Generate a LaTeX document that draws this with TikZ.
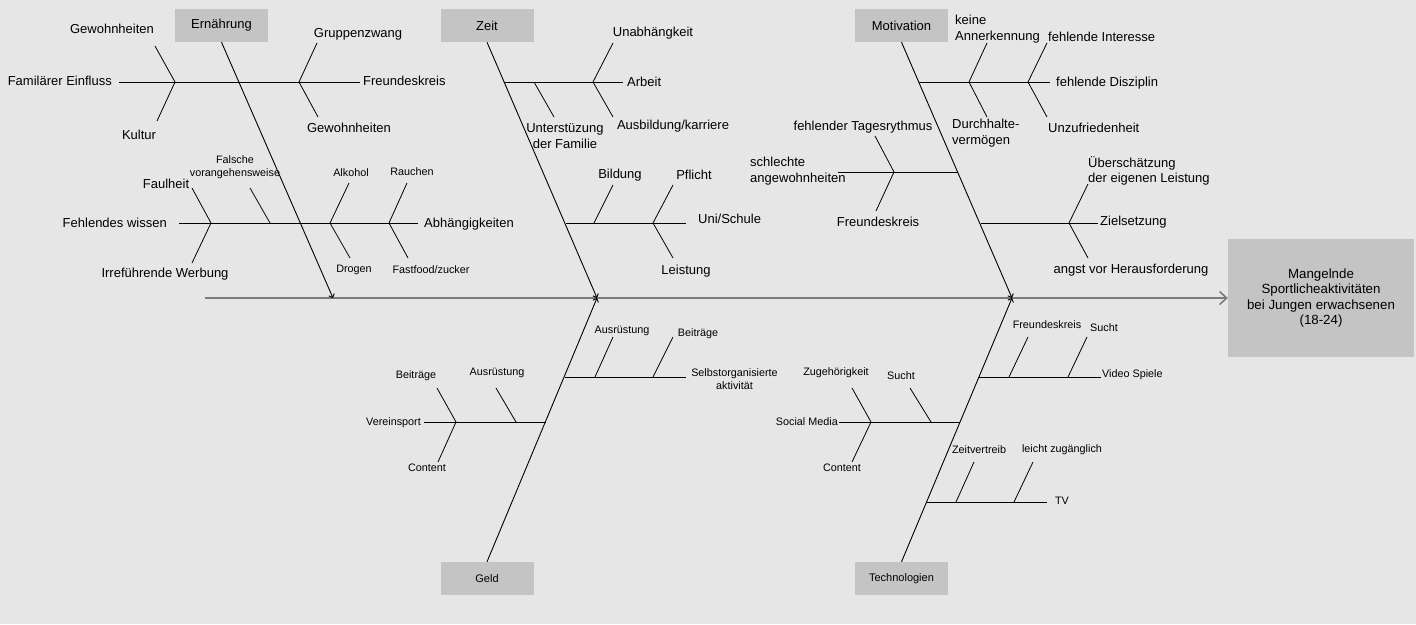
\documentclass[tikz,border=0pt]{standalone}
\usepackage{fontspec}
\setmainfont{Liberation Sans}
\usetikzlibrary{arrows.meta}
\definecolor{bgc}{HTML}{E6E6E6}
\definecolor{boxc}{HTML}{C4C4C4}
\definecolor{spinec}{HTML}{7A7A7A}
\begin{document}
\begin{tikzpicture}[x=1pt,y=-1pt,
  lab/.style={font=\fontsize{13}{15.5}\selectfont, inner sep=0pt, align=center},
  sml/.style={font=\fontsize{10.8}{13}\selectfont, inner sep=0pt, align=center},
  cat/.style={fill=boxc, minimum width=93pt, minimum height=33pt, inner sep=0pt, font=\fontsize{13}{15}\selectfont},
  catsml/.style={cat, font=\fontsize{11}{13}\selectfont},
  bone/.style={line width=0.9pt, -{Straight Barb[length=3pt,width=6pt]}},
  twig/.style={line width=0.8pt},
  spine/.style={line width=2pt, draw=spinec, -{Straight Barb[length=7pt,width=13pt,line width=1.6pt]}},
]
\fill[bgc] (0,0) rectangle (1416,624);
\useasboundingbox (0,0) rectangle (1416,624);

% boxes
\node[cat] (ern) at (221.5,25.5) {Ernährung};
\node[cat] (zeit) at (487,25.5) {Zeit};
\node[cat] (mot) at (901.5,25.5) {Motivation};
\node[catsml] (geld) at (487,578.5) {Geld};
\node[catsml] (tech) at (901.5,578.5) {Technologien};
\node[fill=boxc, minimum width=186pt, minimum height=118pt, inner sep=0pt, align=center,
      font=\fontsize{13.3}{15.5}\selectfont] (eff) at (1321,298)
      {Mangelnde\\Sportlicheaktivitäten\\bei Jungen erwachsenen\\(18-24)};

% spine
\coordinate (s0) at (205,298);
\draw[spine] (s0) -- (eff.west);

% main bones
\coordinate (ernT) at (333,298);
\coordinate (zeitT) at (597,298);
\coordinate (motT) at (1012,298);
\draw[bone] (ern.south) -- (ernT);
\draw[bone] (zeit.south) -- (zeitT);
\draw[bone] (mot.south) -- (motT);
\draw[bone] (geld.north) -- (zeitT);
\draw[bone] (tech.north) -- (motT);

% ===== Ernaehrung upper
\coordinate (e1a) at (119,82); \coordinate (e1b) at (360,82);
\draw[twig] (e1a) -- (e1b);
\coordinate (e1f) at (175,82); \coordinate (e1u) at (155,46); \coordinate (e1d) at (157,121);
\draw[twig] (e1u) -- (e1f) -- (e1d);
\coordinate (e1g) at (299,82); \coordinate (e1gu) at (317,43); \coordinate (e1gd) at (318,117);
\draw[twig] (e1gu) -- (e1g) -- (e1gd);
\node[lab] (t1) at (112,29) {Gewohnheiten};
\node[lab, anchor=east] (t2) at (112,81) {Familärer Einfluss};
\node[lab] (t3) at (139,135) {Kultur};
\node[lab] (t4) at (358,34) {Gruppenzwang};
\node[lab, anchor=west] (t5) at (363,81) {Freundeskreis};
\node[lab] (t6) at (349,128) {Gewohnheiten};

% ===== Ernaehrung lower
\coordinate (e2a) at (179,223); \coordinate (e2b) at (418,223);
\draw[twig] (e2a) -- (e2b);
\coordinate (e2f) at (211,223); \coordinate (e2u) at (192,188); \coordinate (e2d) at (192,263);
\draw[twig] (e2u) -- (e2f) -- (e2d);
\coordinate (e2g) at (270,223); \coordinate (e2gu) at (250,188);
\draw[twig] (e2gu) -- (e2g);
\coordinate (e2h) at (330,223); \coordinate (e2hu) at (349,183); \coordinate (e2hd) at (350,258);
\draw[twig] (e2hu) -- (e2h) -- (e2hd);
\coordinate (e2i) at (389,223); \coordinate (e2iu) at (407,183); \coordinate (e2id) at (408,258);
\draw[twig] (e2iu) -- (e2i) -- (e2id);
\node[lab, anchor=east] (t7) at (167,223) {Fehlendes wissen};
\node[lab, anchor=west] (t8) at (424,224) {Abhängigkeiten};
\node[lab] (t9) at (166,184) {Faulheit};
\node[lab] (t10) at (165,274) {Irreführende Werbung};
\node[sml] (t11) at (235,167) {Falsche\\vorangehensweise};
\node[sml] (t12) at (351,173) {Alkohol};
\node[sml] (t13) at (354,270) {Drogen};
\node[sml] (t14) at (412,172) {Rauchen};
\node[sml] (t15) at (431,270) {Fastfood/zucker};

% ===== Zeit upper
\coordinate (z1a) at (505,82); \coordinate (z1b) at (623,82);
\draw[twig] (z1a) -- (z1b);
\coordinate (z1f) at (593,82); \coordinate (z1u) at (613,43); \coordinate (z1d) at (613,117);
\draw[twig] (z1u) -- (z1f) -- (z1d);
\coordinate (z1g) at (534,82); \coordinate (z1gd) at (554,117);
\draw[twig] (z1g) -- (z1gd);
\node[lab, anchor=west] (t16) at (627,82) {Arbeit};
\node[lab] (t17) at (653,33) {Unabhängkeit};
\node[lab] (t18) at (673,126) {Ausbildung/karriere};
\node[lab] (t19) at (565,136) {Unterstüzung\\der Familie};

% ===== Zeit lower
\coordinate (z2a) at (566,223); \coordinate (z2b) at (686,223);
\draw[twig] (z2a) -- (z2b);
\coordinate (z2f) at (594,223); \coordinate (z2u) at (613,185);
\draw[twig] (z2u) -- (z2f);
\coordinate (z2g) at (653,223); \coordinate (z2gu) at (673,185); \coordinate (z2gd) at (673,258);
\draw[twig] (z2gu) -- (z2g) -- (z2gd);
\node[lab, anchor=west] (t20) at (698,219) {Uni/Schule};
\node[lab] (t21) at (620,175) {Bildung};
\node[lab] (t22) at (694,175) {Pflicht};
\node[lab] (t23) at (686,271) {Leistung};

% ===== Motivation upper
\coordinate (m1a) at (919,82); \coordinate (m1b) at (1050,82);
\draw[twig] (m1a) -- (m1b);
\coordinate (m1f) at (969,82); \coordinate (m1u) at (987,43); \coordinate (m1d) at (987,117);
\draw[twig] (m1u) -- (m1f) -- (m1d);
\coordinate (m1g) at (1028,82); \coordinate (m1gu) at (1047,43); \coordinate (m1gd) at (1047,117);
\draw[twig] (m1gu) -- (m1g) -- (m1gd);
\node[lab, anchor=west, align=left] (t24) at (955,29) {keine\\Annerkennung};
\node[lab, anchor=west, align=left] (t25) at (952,133) {Durchhalte-\\vermögen};
\node[lab, anchor=west] (t26) at (1048,37) {fehlende Interesse};
\node[lab, anchor=west] (t27) at (1056,83) {fehlende Disziplin};
\node[lab, anchor=west] (t28) at (1048,128) {Unzufriedenheit};

% ===== Motivation middle
\coordinate (m2a) at (838,172); \coordinate (m2b) at (958,172);
\draw[twig] (m2a) -- (m2b);
\coordinate (m2f) at (894,172); \coordinate (m2u) at (875,136); \coordinate (m2d) at (876,211);
\draw[twig] (m2u) -- (m2f) -- (m2d);
\node[lab] (t29) at (863,127) {fehlender Tagesrythmus};
\node[lab, anchor=west, align=left] (t30) at (750,171) {schlechte\\angewohnheiten};
\node[lab] (t31) at (878,222) {Freundeskreis};

% ===== Motivation right
\coordinate (m3a) at (981,223); \coordinate (m3b) at (1098,223);
\draw[twig] (m3a) -- (m3b);
\coordinate (m3f) at (1069,223); \coordinate (m3u) at (1088,184); \coordinate (m3d) at (1088,258);
\draw[twig] (m3u) -- (m3f) -- (m3d);
\node[lab, anchor=west, align=left] (t32) at (1088,171) {Überschätzung\\der eigenen Leistung};
\node[lab, anchor=west] (t33) at (1100,222) {Zielsetzung};
\node[lab] (t34) at (1131,270) {angst vor Herausforderung};

% ===== Geld right
\coordinate (g1a) at (565,377); \coordinate (g1b) at (686,377);
\draw[twig] (g1a) -- (g1b);
\coordinate (g1f) at (595,377); \coordinate (g1u) at (613,337);
\draw[twig] (g1f) -- (g1u);
\coordinate (g1g) at (653,377); \coordinate (g1gu) at (673,337);
\draw[twig] (g1g) -- (g1gu);
\node[sml] (t35) at (734.5,379) {Selbstorganisierte\\aktivität};
\node[sml] (t36) at (622,331) {Ausrüstung};
\node[sml] (t37) at (698,334) {Beiträge};

% ===== Geld left
\coordinate (g2a) at (424,422); \coordinate (g2b) at (546,422);
\draw[twig] (g2a) -- (g2b);
\coordinate (g2f) at (456,422); \coordinate (g2u) at (437,388); \coordinate (g2d) at (438,462);
\draw[twig] (g2u) -- (g2f) -- (g2d);
\coordinate (g2g) at (516,422); \coordinate (g2gu) at (496,388);
\draw[twig] (g2gu) -- (g2g);
\node[sml, anchor=east] (t38) at (421,423) {Vereinsport};
\node[sml] (t39) at (416,376) {Beiträge};
\node[sml] (t40) at (427,468) {Content};
\node[sml] (t41) at (497,373) {Ausrüstung};

% ===== Technologien right
\coordinate (k1a) at (979,377); \coordinate (k1b) at (1101,377);
\draw[twig] (k1a) -- (k1b);
\coordinate (k1f) at (1009,377); \coordinate (k1u) at (1028,337);
\draw[twig] (k1f) -- (k1u);
\coordinate (k1g) at (1068,377); \coordinate (k1gu) at (1087,337);
\draw[twig] (k1g) -- (k1gu);
\node[sml, anchor=west] (t42) at (1102,375) {Video Spiele};
\node[sml] (t43) at (1047,325) {Freundeskreis};
\node[sml] (t44) at (1104,328) {Sucht};

% ===== Technologien left
\coordinate (k2a) at (839,422); \coordinate (k2b) at (960,422);
\draw[twig] (k2a) -- (k2b);
\coordinate (k2f) at (871,422); \coordinate (k2u) at (852,388); \coordinate (k2d) at (852,462);
\draw[twig] (k2u) -- (k2f) -- (k2d);
\coordinate (k2g) at (931,422); \coordinate (k2gu) at (910,388);
\draw[twig] (k2gu) -- (k2g);
\node[sml, anchor=east] (t45) at (838,422) {Social Media};
\node[sml] (t46) at (836,373) {Zugehörigkeit};
\node[sml] (t47) at (842,468) {Content};
\node[sml] (t48) at (901,376) {Sucht};

% ===== Technologien lower
\coordinate (k3a) at (927,502); \coordinate (k3b) at (1047,502);
\draw[twig] (k3a) -- (k3b);
\coordinate (k3f) at (956,502); \coordinate (k3u) at (974,462);
\draw[twig] (k3f) -- (k3u);
\coordinate (k3g) at (1014,502); \coordinate (k3gu) at (1033,462);
\draw[twig] (k3g) -- (k3gu);
\node[sml] (t49) at (1062,501) {TV};
\node[sml] (t50) at (979,450) {Zeitvertreib};
\node[sml] (t51) at (1062,450) {leicht zugänglich};
\end{tikzpicture}
\end{document}
